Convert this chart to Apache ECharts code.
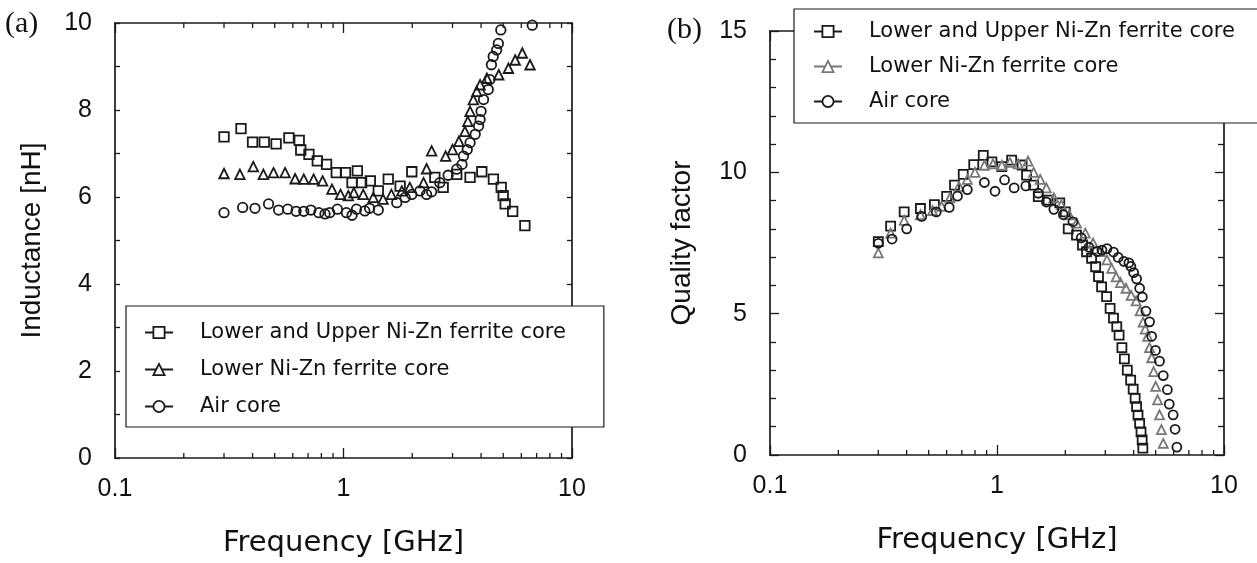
<!DOCTYPE html>
<html>
<head>
<meta charset="utf-8">
<script src="https://cdn.jsdelivr.net/npm/echarts@6/dist/echarts.min.js"></script>
<style>
html, body { margin: 0; padding: 0; background: #fff; }
#main { width: 1257px; height: 563px; }
</style>
</head>
<body>
<div id="main"></div>
<script>
// (a) inductance vs frequency
var freqA_both = [0.30, 0.356, 0.40, 0.45, 0.507, 0.577, 0.64, 0.65, 0.706, 0.768, 0.843, 0.93, 1.02, 1.09, 1.15, 1.20, 1.31, 1.42, 1.57, 1.77, 1.99, 2.51, 2.73, 3.13, 3.58, 4.03, 4.53, 4.9, 5.0, 5.1, 5.5, 6.22];
var indA_both = [7.38, 7.57, 7.26, 7.26, 7.22, 7.36, 7.3, 7.08, 6.98, 6.83, 6.75, 6.56, 6.56, 6.33, 6.6, 6.33, 6.37, 6.14, 6.41, 6.25, 6.58, 6.45, 6.22, 6.52, 6.45, 6.58, 6.41, 6.22, 6.03, 5.84, 5.67, 5.34];
var freqA_lower = [0.30, 0.352, 0.403, 0.446, 0.494, 0.555, 0.614, 0.67, 0.74, 0.81, 0.89, 0.97, 1.05, 1.11, 1.22, 1.35, 1.49, 1.62, 1.80, 1.95, 2.24, 2.31, 2.43, 2.8, 3.0, 3.2, 3.4, 3.5, 3.58, 3.7, 3.83, 3.96, 4.24, 4.78, 5.27, 5.64, 6.06, 6.55];
var indA_lower = [6.54, 6.52, 6.70, 6.52, 6.56, 6.56, 6.42, 6.41, 6.41, 6.37, 6.18, 6.06, 6.03, 6.10, 6.06, 5.99, 5.95, 6.06, 6.14, 6.22, 6.33, 6.65, 7.06, 6.94, 7.09, 7.28, 7.51, 7.74, 7.97, 8.24, 8.43, 8.58, 8.73, 8.81, 8.96, 9.15, 9.31, 9.04];
var freqA_air = [0.30, 0.362, 0.41, 0.47, 0.52, 0.57, 0.62, 0.67, 0.72, 0.78, 0.83, 0.87, 0.94, 1.03, 1.09, 1.14, 1.24, 1.30, 1.42, 1.71, 1.86, 1.99, 2.16, 2.31, 2.43, 2.64, 2.87, 3.13, 3.30, 3.35, 3.48, 3.58, 3.77, 3.9, 3.96, 4.0, 4.1, 4.3, 4.37, 4.44, 4.52, 4.68, 4.76, 4.88, 6.7];
var indA_air = [5.64, 5.76, 5.74, 5.84, 5.70, 5.72, 5.67, 5.67, 5.70, 5.64, 5.61, 5.64, 5.72, 5.64, 5.58, 5.72, 5.68, 5.74, 5.70, 5.87, 5.99, 6.06, 6.14, 6.06, 6.12, 6.33, 6.5, 6.64, 6.75, 6.94, 7.09, 7.25, 7.44, 7.63, 7.78, 7.97, 8.24, 8.47, 8.70, 9.04, 9.23, 9.38, 9.53, 9.84, 9.95];

// (b) quality factor vs frequency
var freqB_both = [0.30, 0.34, 0.39, 0.46, 0.53, 0.60, 0.65, 0.71, 0.79, 0.87, 0.95, 1.05, 1.16, 1.29, 1.35, 1.45, 1.52, 1.68, 1.89, 2.0, 2.06, 2.24, 2.38, 2.48, 2.61, 2.72, 2.80, 2.89, 3.04, 3.15, 3.26, 3.37, 3.45, 3.55, 3.64, 3.75, 3.88, 3.98, 4.06, 4.12, 4.18, 4.25, 4.31, 4.36, 4.39];
var qB_both = [7.55, 8.1, 8.6, 8.72, 8.86, 9.15, 9.55, 9.93, 10.27, 10.6, 10.37, 10.2, 10.43, 10.26, 9.9, 9.55, 9.14, 9.02, 8.92, 8.6, 8.0, 7.78, 7.43, 7.19, 6.96, 6.66, 6.31, 5.95, 5.6, 5.19, 4.84, 4.54, 4.24, 3.8, 3.4, 3.0, 2.65, 2.33, 2.0, 1.71, 1.41, 1.12, 0.82, 0.53, 0.24];
var freqB_lower = [0.30, 0.34, 0.39, 0.46, 0.52, 0.57, 0.62, 0.68, 0.74, 0.80, 0.88, 0.96, 1.05, 1.14, 1.24, 1.37, 1.45, 1.55, 1.65, 1.78, 1.92, 2.08, 2.24, 2.45, 2.65, 2.85, 3.05, 3.2, 3.35, 3.5, 3.7, 3.9, 4.1, 4.27, 4.4, 4.5, 4.61, 4.7, 4.8, 4.9, 5.0, 5.1, 5.2, 5.3, 5.4];
var qB_lower = [7.15, 7.85, 8.3, 8.5, 8.65, 8.8, 9.1, 9.5, 9.75, 10.0, 10.25, 10.3, 10.25, 10.35, 10.3, 10.4, 10.0, 9.75, 9.45, 9.1, 8.85, 8.5, 8.2, 7.85, 7.5, 7.2, 6.9, 6.6, 6.3, 6.1, 5.9, 5.65, 5.45, 5.1, 4.7, 4.45, 4.2, 3.8, 3.44, 2.95, 2.43, 1.95, 1.42, 0.9, 0.41];
var freqB_air = [0.30, 0.345, 0.40, 0.466, 0.54, 0.616, 0.67, 0.74, 0.88, 0.98, 1.08, 1.19, 1.34, 1.52, 1.65, 1.78, 1.96, 2.16, 2.35, 2.54, 2.76, 2.9, 3.05, 3.26, 3.42, 3.62, 3.81, 3.89, 4.0, 4.12, 4.25, 4.37, 4.53, 4.7, 4.8, 4.99, 5.2, 5.4, 5.63, 5.74, 5.97, 6.09, 6.2];
var qB_air = [7.49, 7.64, 8.0, 8.44, 8.6, 8.76, 9.16, 9.39, 9.64, 9.33, 9.73, 9.45, 9.52, 9.26, 8.95, 8.69, 8.5, 8.25, 7.68, 7.35, 7.2, 7.25, 7.3, 7.18, 6.99, 6.85, 6.8, 6.67, 6.45, 6.23, 5.9, 5.59, 5.09, 4.71, 4.2, 3.7, 3.32, 2.81, 2.31, 1.8, 1.42, 0.91, 0.28];

var seriesNames = ['Lower and Upper Ni-Zn ferrite core', 'Lower Ni-Zn ferrite core', 'Air core'];
var minorTickVals = [0.2, 0.3, 0.4, 0.5, 0.6, 0.7, 0.8, 0.9, 2, 3, 4, 5, 6, 7, 8, 9];

var ink = '#1a1a1a';
var grayInk = '#777';
var tickFont = "'Liberation Sans', sans-serif";

function pairs(xs, ys) {
	return xs.map(function (x, i) { return [x, ys[i]]; });
}

function freqAxis(grid, pos, main) {
	return {
		type: 'log', logBase: 10, min: 0.1, max: 10, gridIndex: grid, position: pos,
		axisLine: { show: true, onZero: false, lineStyle: { color: ink, width: 1.7 } },
		axisTick: { show: true, inside: true, length: 10, lineStyle: { color: ink, width: 1.3 } },
		minorTick: { show: false },
		splitLine: { show: false },
		axisLabel: {
			show: main, margin: 19, fontSize: 25, color: '#111', fontFamily: tickFont,
			formatter: function (v) { return v < 1 ? v.toFixed(1) : String(Math.round(v)); }
		},
		name: main ? 'Frequency [GHz]' : '',
		nameLocation: 'middle', nameGap: 71,
		nameTextStyle: { fontSize: 29, fontFamily: 'DejaVu Sans', color: '#111' }
	};
}

function valAxis(grid, pos, main, max, step, minorSplit, tickLen, minorLen, title, gap) {
	return {
		type: 'value', min: 0, max: max, interval: step, gridIndex: grid, position: pos,
		axisLine: { show: true, onZero: false, lineStyle: { color: ink, width: 1.7 } },
		axisTick: { show: true, inside: true, length: tickLen, lineStyle: { color: ink, width: 1.3 } },
		minorTick: { show: true, splitNumber: minorSplit, length: minorLen, lineStyle: { color: ink, width: 1.3 } },
		splitLine: { show: false },
		axisLabel: { show: main, margin: 23, fontSize: 25, color: '#111', fontFamily: tickFont },
		name: main ? title : '',
		nameLocation: 'middle', nameGap: gap,
		nameTextStyle: { fontSize: 28, fontFamily: "'Liberation Sans', sans-serif", color: '#111' }
	};
}

function markers(name, xs, ys, sym, size, color, xi, yi) {
	return {
		name: name, type: 'line', xAxisIndex: xi, yAxisIndex: yi,
		data: pairs(xs, ys),
		symbol: sym, symbolSize: size, showSymbol: true,
		lineStyle: { opacity: 0 },
		itemStyle: { color: 'rgba(0,0,0,0)', borderColor: color, borderWidth: 1.8 },
		emphasis: { disabled: true },
		animation: false, z: 2
	};
}

// small log ticks (2..9) on bottom and top of each frame
function logMinorTicks(xi, yi, yTop) {
	return {
		type: 'custom', xAxisIndex: xi, yAxisIndex: yi, silent: true, z: 3,
		data: minorTickVals.map(function (v) { return [v, 0]; }),
		renderItem: function (params, api) {
			var b = api.coord([api.value(0), 0]);
			var t = api.coord([api.value(0), yTop]);
			var st = { stroke: ink, lineWidth: 1.3 };
			return {
				type: 'group', children: [
					{ type: 'line', shape: { x1: b[0], y1: b[1], x2: b[0], y2: b[1] - 5 }, style: st },
					{ type: 'line', shape: { x1: t[0], y1: t[1], x2: t[0], y2: t[1] + 5 }, style: st }
				]
			};
		}
	};
}

function legendItems(triColor) {
	var cols = [ink, triColor, ink];
	return seriesNames.map(function (n, i) {
		return {
			name: n,
			itemStyle: { color: '#fff', borderColor: cols[i], borderWidth: 1.8 },
			lineStyle: { color: cols[i], width: 2, opacity: 1 }
		};
	});
}

var legendText = { fontSize: 21, fontFamily: 'DejaVu Sans', color: '#111', padding: [0, 0, 0, 22] };

var myChart = echarts.init(document.getElementById('main'));
var option = {
	backgroundColor: '#fff',
	animation: false,
	title: [
		{ text: '(a)', left: 0, top: 4, textStyle: { fontFamily: "'Liberation Serif', serif", fontSize: 30, fontWeight: 'normal', color: '#111' } },
		{ text: '(b)', left: 662, top: 10, textStyle: { fontFamily: "'Liberation Serif', serif", fontSize: 30, fontWeight: 'normal', color: '#111' } }
	],
	grid: [
		{ left: 115, top: 23, width: 457, height: 437 },
		{ left: 770, top: 31, width: 454, height: 424 }
	],
	xAxis: [
		freqAxis(0, 'bottom', true),
		freqAxis(0, 'top', false),
		freqAxis(1, 'bottom', true),
		freqAxis(1, 'top', false)
	],
	yAxis: [
		valAxis(0, 'left', true, 10, 2, 2, 5, 5, 'Inductance [nH]', 69),
		valAxis(0, 'right', false, 10, 2, 2, 5, 5, '', 0),
		valAxis(1, 'left', true, 15, 5, 5, 9, 6, 'Quality factor', 74),
		valAxis(1, 'right', false, 15, 5, 5, 9, 6, '', 0)
	],
	legend: [
		{
			orient: 'vertical', left: 126, top: 306,
			padding: [16, 38, 10, 18], itemGap: 16, itemWidth: 28, itemHeight: 14,
			backgroundColor: '#fff', borderColor: ink, borderWidth: 1.2,
			textStyle: legendText, selectedMode: false,
			data: legendItems(ink)
		},
		{
			orient: 'vertical', left: 794, top: 9,
			padding: [12, 70, 11, 19], itemGap: 14, itemWidth: 28, itemHeight: 14,
			backgroundColor: '#fff', borderColor: ink, borderWidth: 1.2,
			textStyle: legendText, selectedMode: false,
			data: legendItems(grayInk)
		}
	],
	series: [
		markers(seriesNames[0], freqA_both, indA_both, 'rect', 9.5, ink, 0, 0),
		markers(seriesNames[1], freqA_lower, indA_lower, 'triangle', 9.5, ink, 0, 0),
		markers(seriesNames[2], freqA_air, indA_air, 'circle', 9.5, ink, 0, 0),
		markers(seriesNames[0], freqB_both, qB_both, 'rect', 9, ink, 2, 2),
		markers(seriesNames[1], freqB_lower, qB_lower, 'triangle', 9, grayInk, 2, 2),
		markers(seriesNames[2], freqB_air, qB_air, 'circle', 9, ink, 2, 2),
		logMinorTicks(0, 0, 10),
		logMinorTicks(2, 2, 15)
	]
};
myChart.setOption(option);
</script>
</body>
</html>
